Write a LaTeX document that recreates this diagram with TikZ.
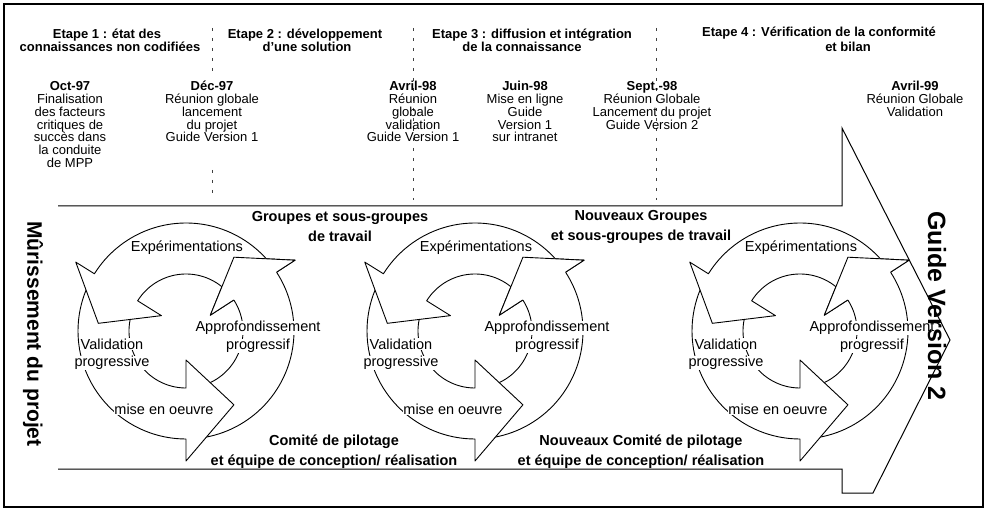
\documentclass[tikz,border=0pt]{standalone}
\usepackage{fontspec}
\setmainfont{Liberation Sans}
\def\cRin{57}
\def\cRout{108}
\def\cRfo{130}
\def\cRfi{29}
\def\cRap{88}
% #1 tail angle, #2 head base angle, #3 apex angle
\newcommand\cyarrow[3]{%
  \draw[cycline] (#1:\cRin) -- plot[domain=#1:#2,samples=50] (\x:\cRout) -- (#2:\cRfo) -- (#3:\cRap) -- (#2:\cRfi) -- (#2:\cRin) -- plot[domain=#2:#1,samples=50] (\x:\cRin) -- cycle;}
\newcommand\cyhead[3]{%
  \fill[white] (#2:\cRfo) -- (#3:\cRap) -- (#2:\cRfi) -- cycle;
  \draw[headline] (#2:\cRin) -- (#2:\cRfi) -- (#3:\cRap) -- (#2:\cRfo) -- (#2:\cRout);}
\newcommand\drawcycle[2]{%
  \begin{scope}[shift={(#1,331)}, yscale=-1]
    \cyarrow{273}{393}{417}
    \cyarrow{151}{270}{303}
    \cyarrow{36}{148}{175}
    \cyhead{273}{393}{417}
  \end{scope}
  \node[lbl] (exp#2) at (#1+1,248) {Expérimentations};
  \node[lbl] (app#2) at (#1+72,328) {Approfondissement};
  \node[lbl] (prf#2) at (#1+72,346) {progressif};
  \node[lbl] (val#2) at (#1-74,344) {Validation};
  \node[lbl] (pgv#2) at (#1-74,363) {progressive};
  \node[lbl] (mis#2) at (#1-22,409) {mise en oeuvre};
}
\begin{document}
\begin{tikzpicture}[x=1pt,y=-1pt,
  hd/.style={font=\fontsize{13}{13}\selectfont\bfseries, inner sep=0pt, anchor=base},
  datecol/.style={font=\fontsize{13}{12.8}\selectfont, align=center, inner sep=0pt, anchor=north},
  grp/.style={font=\fontsize{14.5}{20}\selectfont\bfseries, align=center, inner sep=0pt},
  lbl/.style={font=\fontsize{14.5}{14.5}\selectfont, fill=white, inner sep=0.6pt},
  cycline/.style={line width=0.9pt, fill=white, line join=round},
  headline/.style={line width=0.9pt, line join=round},
  sepline/.style={line width=0.6pt, black!75, dash pattern=on 3pt off 7pt},
  vert/.style={rotate=-90, inner sep=0pt}]
\useasboundingbox (0,0) rectangle (990,510);
% frame
\draw[line width=1.4pt] (4,4) rectangle (983,507);
% big arrow
\draw[line width=1pt, fill=white, line join=miter] (58,206) -- (842,206) -- (842,128) -- (950,340) -- (873,493) -- (842,493) -- (842,469) -- (58,469);
% separators
\draw[sepline] (212,28) -- (212,74);
\draw[sepline] (212,170) -- (212,200);
\draw[sepline] (413,28) -- (413,200);
\draw[sepline] (656,28) -- (656,200);
% headings
\node[hd] (h1a) at (107,39) {Etape 1 : état des};
\node[hd] (h1b) at (110,52) {connaissances non codifiées};
\node[hd] (h2a) at (305,39) {Etape 2 : développement};
\node[hd] (h2b) at (307,52) {d'une solution};
\node[hd] (h3a) at (532,39) {Etape 3 : diffusion et intégration};
\node[hd] (h3b) at (522,52) {de la connaissance};
\node[hd] (h4a) at (819,37) {Etape 4 : Vérification de la conformité};
\node[hd] (h4b) at (848,52) {et bilan};
% dates
\node[datecol] (d1) at (70,80.5) {\rule{0pt}{10pt}\textbf{Oct-97}\\Finalisation\\des facteurs\\critiques de\\succès dans\\la conduite\\de MPP};
\node[datecol] (d2) at (212,80.5) {\rule{0pt}{10pt}\textbf{Déc-97}\\Réunion globale\\lancement\\du projet\\Guide Version 1};
\node[datecol] (d3) at (413,80.5) {\rule{0pt}{10pt}\textbf{Avril-98}\\Réunion\\globale\\validation\\Guide Version 1};
\node[datecol] (d4) at (525,80.5) {\rule{0pt}{10pt}\textbf{Juin-98}\\Mise en ligne\\Guide\\Version 1\\sur intranet};
\node[datecol] (d5) at (652,80.5) {\rule{0pt}{10pt}\textbf{Sept.-98}\\Réunion Globale\\Lancement du projet\\Guide Version 2};
\node[datecol] (d6) at (915,80.5) {\rule{0pt}{10pt}\textbf{Avril-99}\\Réunion Globale\\Validation};
% cycles
\drawcycle{186}{a}
\drawcycle{475}{b}
\drawcycle{800}{c}
% group labels
\node[grp] (g1) at (340,227) {Groupes et sous-groupes\\de travail};
\node[grp] (g2) at (641,227) {Nouveaux Groupes\\et sous-groupes de travail};
\node[grp] (c1) at (334,452) {Comité de pilotage\\et équipe de conception/ réalisation};
\node[grp] (c2) at (641,452) {Nouveaux Comité de pilotage\\et équipe de conception/ réalisation};
% vertical titles
\node[vert, font=\fontsize{21}{21}\selectfont\bfseries] (mur) at (33,334) {Mûrissement du projet};
\node[vert, font=\fontsize{25}{25}\selectfont\bfseries] (guide) at (937,306) {Guide Version 2};
\end{tikzpicture}
\end{document}
